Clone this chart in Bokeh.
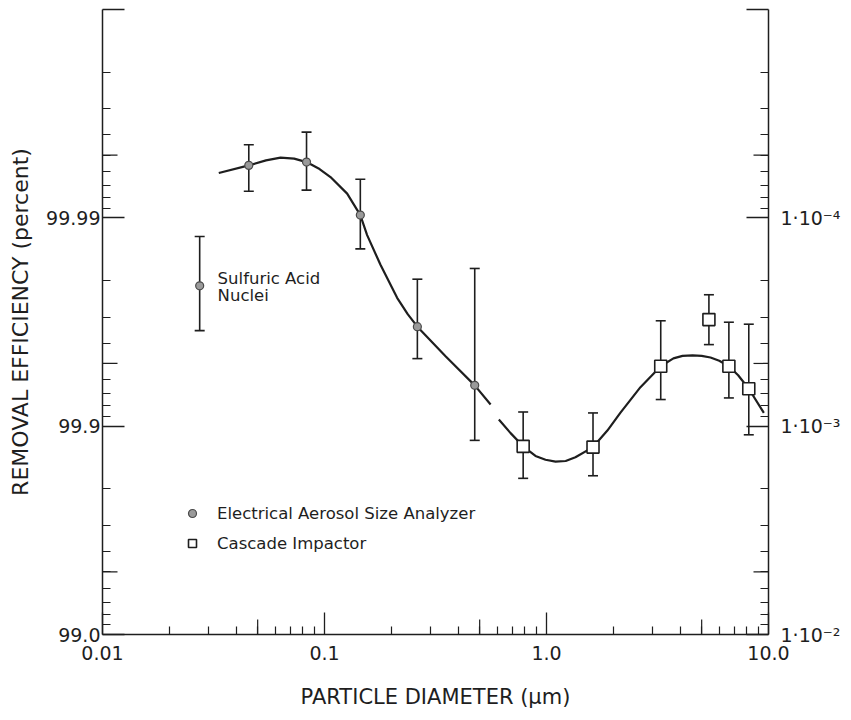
import math
from bokeh.plotting import figure
from bokeh.models import (LogAxis, FixedTicker, Whisker, TeeHead, ColumnDataSource,
                          Legend, LegendItem, Label, Range1d)
from bokeh.embed import file_html
from bokeh.resources import INLINE

# ---------------- data ----------------
# Electrical Aerosol Size Analyzer (penetration = 1 - efficiency)
eaa_d = [0.0456, 0.083, 0.145, 0.262, 0.475]
eaa_p = [5.6e-5, 5.4e-5, 9.7e-5, 3.33e-4, 6.37e-4]
eaa_p_top = [4.46e-5, 3.88e-5, 6.53e-5, 1.97e-4, 1.75e-4]
eaa_p_bot = [7.45e-5, 7.36e-5, 1.41e-4, 4.74e-4, 1.17e-3]

# Sulfuric acid nuclei
nuc_d = [0.0274]
nuc_p = [2.12e-4]
nuc_p_top = [1.23e-4]
nuc_p_bot = [3.48e-4]

# Cascade Impactor
ci_d = [0.785, 1.62, 3.27, 5.39, 6.63, 8.15]
ci_p = [1.25e-3, 1.26e-3, 5.16e-4, 3.08e-4, 5.16e-4, 6.61e-4]
ci_p_top = [8.55e-4, 8.64e-4, 3.12e-4, 2.34e-4, 3.17e-4, 3.24e-4]
ci_p_bot = [1.78e-3, 1.73e-3, 7.45e-4, 4.06e-4, 7.32e-4, 1.10e-3]

# hand-drawn fitted curve (two pieces, with a gap near 0.58 um)
curve1_d = [0.0334, 0.0456, 0.0545, 0.0634, 0.073, 0.083, 0.095, 0.1064, 0.1265,
            0.145, 0.1556, 0.1787, 0.2124, 0.237, 0.262, 0.351, 0.475, 0.560]
curve1_p = [6.09e-5, 5.6e-5, 5.3e-5, 5.14e-5, 5.2e-5, 5.4e-5, 5.83e-5, 6.37e-5, 7.65e-5,
            9.7e-5, 1.21e-4, 1.68e-4, 2.42e-4, 2.9e-4, 3.33e-4, 4.62e-4, 6.37e-4, 7.87e-4]
curve2_d = [0.610, 0.689, 0.785, 0.892, 0.99, 1.098, 1.22, 1.35, 1.62, 1.88, 2.15,
            2.65, 3.27, 3.73, 4.1, 4.55, 5.0, 5.48, 6.0, 6.63, 7.3, 8.15, 9.53]
curve2_p = [9.29e-4, 1.08e-3, 1.25e-3, 1.39e-3, 1.45e-3, 1.48e-3, 1.47e-3, 1.41e-3,
            1.26e-3, 1.05e-3, 8.63e-4, 6.50e-4, 5.16e-4, 4.73e-4, 4.6e-4, 4.57e-4,
            4.6e-4, 4.68e-4, 4.85e-4, 5.16e-4, 5.7e-4, 6.61e-4, 8.63e-4]

# axis ticks and labels
x_major = [0.01, 0.1, 1.0, 10.0]
x_labels = ["0.01", "0.1", "1.0", "10.0"]
y_major = [1e-2, 1e-3, 1e-4, 1e-5]
y_left_labels = ["99.0", "99.9", "99.99", ""]
y_right_labels = ["1·10⁻²", "1·10⁻³", "1·10⁻⁴", ""]

x_minor = [k * 10.0 ** e for e in (-2, -1, 0) for k in range(2, 10)]
y_minor = [k * 10.0 ** e for e in (-5, -4, -3) for k in range(2, 10)]
# the "5" ticks of each decade are drawn longer in the original
x_half_ticks = [0.05, 0.5, 5.0]
y_half_ticks = [5e-5, 5e-4, 5e-3]

X_LO, X_HI = 0.01, 10.0
Y_LO, Y_HI = 1e-2, 1e-5

FONT = "DejaVu Sans"
INK = "#1e1e1e"

p = figure(x_axis_type="log", y_axis_type="log",
           x_range=Range1d(X_LO, X_HI), y_range=Range1d(Y_LO, Y_HI),
           frame_width=666, frame_height=625,
           min_border_left=102, min_border_right=71,
           min_border_top=9, min_border_bottom=78,
           output_backend="svg", toolbar_location=None)
p.outline_line_color = None
p.grid.visible = False
p.background_fill_color = "white"
p.border_fill_color = "white"


def style_axis(ax, major_in, minor_in):
    ax.axis_line_color = INK
    ax.axis_line_width = 1.5
    ax.major_tick_line_color = INK
    ax.minor_tick_line_color = INK
    ax.major_tick_line_width = 1.3
    ax.minor_tick_line_width = 1.2
    ax.major_tick_in = major_in
    ax.major_tick_out = 0
    ax.minor_tick_in = minor_in
    ax.minor_tick_out = 0
    ax.major_label_text_font = FONT
    ax.major_label_text_font_size = "19px"
    ax.major_label_text_color = INK
    ax.axis_label_text_font = FONT
    ax.axis_label_text_font_style = "normal"
    ax.axis_label_text_color = INK


# bottom axis
xa = p.xaxis[0]
xa.ticker = FixedTicker(ticks=x_major, minor_ticks=x_minor)
xa.major_label_overrides = dict(zip(x_major, x_labels))
style_axis(xa, 22, 8)
xa.major_label_standoff = 11
xa.axis_label = "PARTICLE DIAMETER (μm)"
xa.axis_label_text_font_size = "21px"
xa.axis_label_standoff = 22

# left axis
ya = p.yaxis[0]
ya.ticker = FixedTicker(ticks=y_major, minor_ticks=y_minor)
ya.major_label_overrides = dict(zip(y_major, y_left_labels))
style_axis(ya, 22, 8)
ya.major_label_standoff = 2
ya.axis_label = "REMOVAL EFFICIENCY (percent)"
ya.axis_label_text_font_size = "22px"
ya.axis_label_standoff = 10

# right axis
ra = LogAxis(ticker=FixedTicker(ticks=y_major, minor_ticks=y_minor))
ra.major_label_overrides = dict(zip(y_major, y_right_labels))
style_axis(ra, 22, 8)
ra.major_label_standoff = 12
p.add_layout(ra, "right")

# longer "5" ticks: dashes centred on the frame edges (outer half is clipped)
p.scatter(x_half_ticks, [Y_LO] * len(x_half_ticks), marker="dash", angle=math.pi / 2,
          size=30, line_color=INK, line_width=1.2)
p.scatter([X_LO] * len(y_half_ticks), y_half_ticks, marker="dash",
          size=30, line_color=INK, line_width=1.2)
p.scatter([X_HI] * len(y_half_ticks), y_half_ticks, marker="dash",
          size=30, line_color=INK, line_width=1.2)

# curve
p.line(curve1_d, curve1_p, line_color=INK, line_width=2.2)
p.line(curve2_d, curve2_p, line_color=INK, line_width=2.2)

# error bars
for d, lo, hi in ((eaa_d, eaa_p_top, eaa_p_bot),
                  (nuc_d, nuc_p_top, nuc_p_bot),
                  (ci_d, ci_p_top, ci_p_bot)):
    src = ColumnDataSource(dict(x=d, lo=lo, hi=hi))
    w = Whisker(source=src, base="x", lower="lo", upper="hi", dimension="height",
                line_color=INK, line_width=1.6,
                lower_head=TeeHead(size=10, line_color=INK, line_width=1.6),
                upper_head=TeeHead(size=10, line_color=INK, line_width=1.6))
    p.add_layout(w)

# markers
r_eaa = p.scatter(eaa_d, eaa_p, marker="circle", size=8,
                  fill_color="#9a9a9a", line_color="#4a4a4a", line_width=1.2)
p.scatter(nuc_d, nuc_p, marker="circle", size=8,
          fill_color="#9a9a9a", line_color="#4a4a4a", line_width=1.2)
r_ci = p.scatter(ci_d, ci_p, marker="square", size=12,
                 fill_color="white", line_color=INK, line_width=1.6)

# annotation for nuclei point
for txt, yv in (("Sulfuric Acid", 1.96e-4), ("Nuclei", 2.36e-4)):
    p.add_layout(Label(x=0.033, y=yv, text=txt, text_font=FONT,
                       text_font_size="16.5px", text_color=INK,
                       text_baseline="middle", text_align="left"))

legend = Legend(items=[LegendItem(label="Electrical Aerosol Size Analyzer", renderers=[r_eaa]),
                       LegendItem(label="Cascade Impactor", renderers=[r_ci])],
                location=(80, 81), orientation="vertical",
                border_line_color=None, background_fill_alpha=0,
                padding=0, margin=0, spacing=10,
                glyph_width=20, glyph_height=20, label_height=20,
                label_standoff=15, label_text_font=FONT,
                label_text_font_size="16.5px", label_text_color=INK)
p.add_layout(legend)

open("out.html", "w").write(file_html(p, INLINE))
